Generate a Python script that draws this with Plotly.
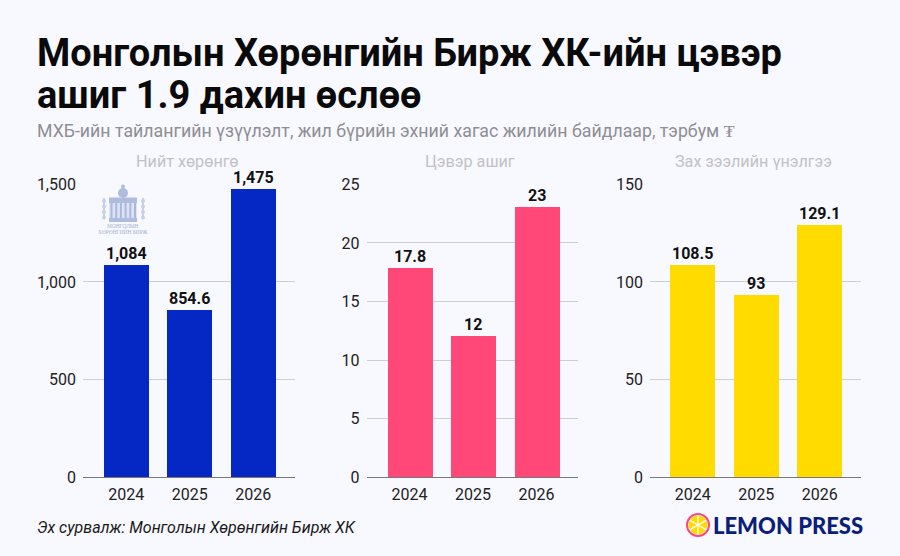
import math
import plotly.graph_objects as go

W, H = 900, 556
BG = "#F8F8FF"

years = ["2024", "2025", "2026"]
total_assets = [1084, 854.6, 1475]
net_profit = [17.8, 12, 23]
market_cap = [108.5, 93, 129.1]

panel_titles = ["Нийт хөрөнгө", "Цэвэр ашиг", "Зах зээлийн үнэлгээ"]
panel_values = [total_assets, net_profit, market_cap]
panel_colors = ["#0528C4", "#FF4778", "#FFDB00"]
panel_max = [1500, 25, 150]
panel_ticks = [[0, 500, 1000, 1500], [0, 5, 10, 15, 20, 25], [0, 50, 100, 150]]
# left edge, right edge, top and baseline of each plot area, in pixels
panel_boxes = [(83, 295, 184.3, 477.3), (366.5, 578, 184.3, 477.3), (650, 861, 184.3, 477.3)]
first_bar_center = [126.2, 409.5, 692.8]
bar_step = 63.5
bar_px = 45

title_lines = ["Монголын Хөрөнгийн Бирж ХК-ийн цэвэр", "ашиг 1.9 дахин өслөө"]
subtitle = "МХБ-ийн тайлангийн үзүүлэлт, жил бүрийн эхний хагас жилийн байдлаар, тэрбум ₮"
source = "Эх сурвалж: Монголын Хөрөнгийн Бирж ХК"
brand = "LEMON PRESS"
seal_lines = ["МОНГОЛЫН", "ХӨРӨНГИЙН БИРЖ"]


def fx(px):
    return px / W


def fy(py):
    return 1 - py / H


fig = go.Figure()
shapes, annotations = [], []


def add_text(px, py, text, size, color, anchor="left", weight=400, style="normal", family="Roboto"):
    annotations.append(dict(
        x=fx(px), y=fy(py), xref="paper", yref="paper", text=text, showarrow=False,
        xanchor=anchor, yanchor="middle", align=anchor, borderpad=0, borderwidth=0,
        font=dict(family=family, size=size, color=color, weight=weight, style=style),
    ))


def rect(x0, y0, x1, y1, fill, layer="above"):
    shapes.append(dict(type="rect", xref="paper", yref="paper", x0=fx(x0), x1=fx(x1),
                       y0=fy(y0), y1=fy(y1), fillcolor=fill, line_width=0, layer=layer))


def circle(cx, cy, r, fill, line=None, lw=0, layer="above"):
    shapes.append(dict(type="circle", xref="paper", yref="paper", x0=fx(cx - r), x1=fx(cx + r),
                       y0=fy(cy + r), y1=fy(cy - r), fillcolor=fill,
                       line=dict(color=line or fill, width=lw), layer=layer))


def polygon(points, fill, layer="above"):
    path = "M " + " L ".join(f"{fx(x):.5f},{fy(y):.5f}" for x, y in points) + " Z"
    shapes.append(dict(type="path", xref="paper", yref="paper", path=path,
                       fillcolor=fill, line_width=0, layer=layer))


for i, (values, color, top, ticks, box, c0) in enumerate(
    zip(panel_values, panel_colors, panel_max, panel_ticks, panel_boxes, first_bar_center)
):
    n = "" if i == 0 else str(i + 1)
    left, right, ytop, ybase = box
    fig.add_trace(go.Bar(
        x=[0, 1, 2], y=values, xaxis=f"x{n}", yaxis=f"y{n}", width=bar_px / bar_step,
        marker=dict(color=color, line_width=0), showlegend=False, hoverinfo="skip",
    ))
    for k, v in enumerate(values):
        annotations.append(dict(
            x=k, y=v, xref=f"x{n}", yref=f"y{n}", text=f"{v:,}", showarrow=False,
            yanchor="middle", yshift=12, borderpad=0,
            font=dict(family="Roboto", size=16, color="#111111", weight=700),
        ))
    fig.update_layout({
        f"xaxis{n}": dict(
            domain=[fx(left), fx(right)], anchor=f"y{n}", automargin=False,
            range=[(left - c0) / bar_step, (right - c0) / bar_step],
            tickmode="array", tickvals=[0, 1, 2], ticktext=years, ticks="", ticklabelstandoff=2,
            showgrid=False, zeroline=False, showline=True, linecolor="#77777C", linewidth=1,
            tickfont=dict(family="Roboto", size=16, color="#222222"),
        ),
        f"yaxis{n}": dict(
            domain=[fy(ybase), fy(ytop)], anchor=f"x{n}", range=[0, top], automargin=False,
            tickmode="array", tickvals=ticks, tickformat=",", ticks="", ticklabelstandoff=6,
            showgrid=True, gridcolor="#CDCDD2", gridwidth=1, zeroline=False,
            showline=False, tickfont=dict(family="Roboto", size=16, color="#222222"),
        ),
    })
    add_text((left + right) / 2 - 2, 162, panel_titles[i], 16.2, "#C2C2C6", "center")

add_text(37, 53, title_lines[0], 38, "#0A0A0A", weight=700)
add_text(37, 95, title_lines[1], 38, "#0A0A0A", weight=700)
add_text(37, 131, subtitle, 17.75, "#8E8E93")
add_text(37, 527, source, 16, "#1A1A1A", style="italic")

# Brand mark: lemon slice inside a pink ring, then the wordmark
LC = (698, 525)
circle(*LC, 11, "#FFFFFF", "#FF4778", 2)
for s in range(6):
    a0 = math.radians(s * 60 - 90 + 4)
    a1 = math.radians(s * 60 - 30 - 4)
    tip = (LC[0] + 1.2 * math.cos((a0 + a1) / 2), LC[1] + 1.2 * math.sin((a0 + a1) / 2))
    arc = [(LC[0] + 9.3 * math.cos(a0 + (a1 - a0) * t / 5),
            LC[1] + 9.3 * math.sin(a0 + (a1 - a0) * t / 5)) for t in range(6)]
    polygon([tip] + arc, "#FFDB00")
add_text(713, 525, brand, 22, "#0B1F7A", weight=900, family="Lato")

# Pale exchange seal above the first bar: finial, dome, colonnade, side script, caption
SEAL = "#AEBDDD"
circle(123, 186.5, 2, SEAL)
circle(123, 193, 5, SEAL)
rect(109, 197.5, 137, 203, SEAL, "below")
rect(109, 218, 137, 222, SEAL, "below")
rect(109, 203, 137, 218, "#DDE3F3", "below")
for k in range(6):
    rect(110.5 + k * 4.7, 203, 112.5 + k * 4.7, 218, "#A9B9DC", "below")
for side in (102, 141):
    rect(side + 1, 198, side + 3, 219, "#C6D1EA", "below")
    for k in range(4):
        circle(side + 2, 201 + k * 5.5, 2, "#C6D1EA", layer="below")
add_text(123, 226, seal_lines[0], 5.4, "#A2B0D2", "center", family="Liberation Serif")
add_text(123, 231, seal_lines[1], 5.4, "#A2B0D2", "center", family="Liberation Serif")

fig.update_layout(
    width=W, height=H, margin=dict(l=0, r=0, t=0, b=0, pad=0), autosize=False,
    paper_bgcolor=BG, plot_bgcolor=BG, bargap=0,
    shapes=shapes, annotations=annotations, font=dict(family="Roboto"),
)
fig.write_html("out.html", config={"displayModeBar": False})
